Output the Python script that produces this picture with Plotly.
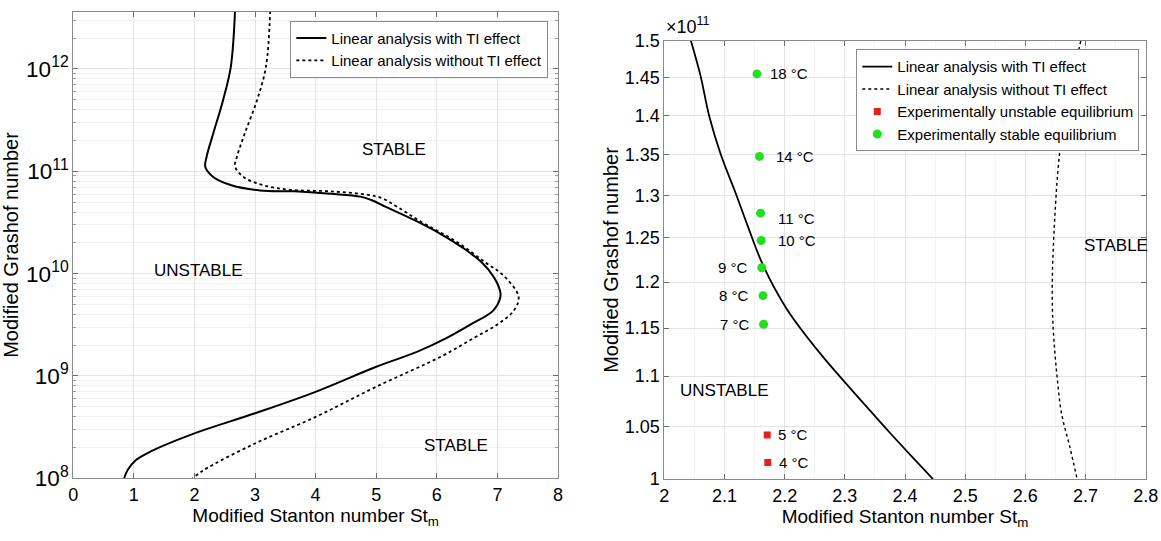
import math
import plotly.graph_objects as go

# ---- left panel: stability boundary over the full Grashof range
st_ti = [2.67, 2.60, 2.47, 2.31, 2.20, 2.18, 2.31, 2.61, 3.08, 3.65, 4.25, 4.74, 4.92, 5.16,
         5.65, 6.08, 6.44, 6.74, 6.93, 7.04, 7.05, 6.93, 6.56, 6.15, 5.67, 5.00, 4.00, 3.00,
         2.00, 1.27, 1.03, 0.90, 0.84]
gr_ti = [3.7e12, 1.05e12, 4.9e11, 2.34e11, 1.38e11, 1.10e11, 8.8e10, 7.3e10, 6.5e10, 6.37e10,
         6.03e10, 5.66e10, 5.24e10, 4.49e10, 3.29e10, 2.41e10, 1.77e10, 1.29e10, 9.46e9,
         6.93e9, 5.94e9, 4.35e9, 3.19e9, 2.33e9, 1.72e9, 1.23e9, 7.0e8, 4.32e8,
         2.75e8, 1.82e8, 1.5e8, 1.21e8, 1.0e8]

st_noti = [3.25, 3.18, 3.03, 2.83, 2.70, 2.67, 2.81, 3.14, 3.58, 4.25, 4.86, 5.10, 5.35, 5.71, 6.32,
           6.80, 7.11, 7.35, 7.27, 7.00, 6.60, 6.10, 5.00, 4.00, 3.00, 2.15, 1.97]
gr_noti = [3.7e12, 1.05e12, 4.9e11, 2.34e11, 1.38e11, 1.12e11, 8.8e10, 7.3e10, 6.6e10, 6.37e10,
           5.89e10, 5.45e10, 4.49e10, 3.29e10, 2.06e10, 1.29e10, 9.46e9, 5.94e9, 4.35e9, 3.19e9,
           2.33e9, 1.58e9, 7.85e8, 3.98e8, 2.19e8, 1.2e8, 1.0e8]

# ---- right panel: zoom, Grashof in units of 1e11
st_ti_z = [2.0443, 2.060, 2.075, 2.094, 2.118, 2.137, 2.164, 2.204, 2.260, 2.335, 2.376, 2.413, 2.4465]
gr_ti_z = [1.5, 1.453, 1.398, 1.350, 1.304, 1.267, 1.219, 1.170, 1.1225, 1.070, 1.043, 1.020, 1.0]

st_noti_z = [2.692, 2.682, 2.669, 2.660, 2.654, 2.650, 2.647, 2.645, 2.645, 2.648, 2.653, 2.660, 2.674, 2.686]
gr_noti_z = [1.5, 1.462, 1.416, 1.372, 1.329, 1.287, 1.247, 1.208, 1.170, 1.133, 1.098, 1.063, 1.030, 1.0]

stable_temp = ["18 °C", "14 °C", "11 °C", "10 °C", "9 °C", "8 °C", "7 °C"]
stable_st = [2.154, 2.158, 2.160, 2.161, 2.162, 2.164, 2.165]
stable_gr = [1.455, 1.348, 1.279, 1.247, 1.216, 1.185, 1.154]

unstable_temp = ["5 °C", "4 °C"]
unstable_st = [2.171, 2.172]
unstable_gr = [1.0416, 1.0154]

yticks_z = [1, 1.05, 1.1, 1.15, 1.2, 1.25, 1.3, 1.35, 1.4, 1.45, 1.5]

FONT = "Liberation Sans, Arial, sans-serif"
W, H = 1161, 541

fig = go.Figure()

fig.add_scatter(x=st_ti, y=gr_ti, mode="lines", name="Linear analysis with TI effect",
                line=dict(color="black", width=2, shape="spline", smoothing=1.0),
                xaxis="x", yaxis="y", legend="legend")
fig.add_scatter(x=st_noti, y=gr_noti, mode="lines", name="Linear analysis without TI effect",
                line=dict(color="black", width=1.8, dash="dot", shape="spline", smoothing=1.0),
                xaxis="x", yaxis="y", legend="legend")

fig.add_scatter(x=st_ti_z, y=gr_ti_z, mode="lines", name="Linear analysis with TI effect",
                line=dict(color="black", width=1.8, shape="spline", smoothing=1.0),
                xaxis="x2", yaxis="y2", legend="legend2")
fig.add_scatter(x=st_noti_z, y=gr_noti_z, mode="lines", name="Linear analysis without TI effect",
                line=dict(color="black", width=1.4, dash="3px,3px", shape="spline", smoothing=1.0),
                xaxis="x2", yaxis="y2", legend="legend2")
fig.add_scatter(x=unstable_st, y=unstable_gr, mode="markers", name="Experimentally unstable equilibrium",
                marker=dict(color="#e8201a", size=7, symbol="square"),
                xaxis="x2", yaxis="y2", legend="legend2")
fig.add_scatter(x=stable_st, y=stable_gr, mode="markers", name="Experimentally stable equilibrium",
                marker=dict(color="#22e020", size=9, symbol="circle"),
                xaxis="x2", yaxis="y2", legend="legend2")

lab_font = dict(size=15, color="black", family=FONT)
# temperature labels next to the experimental points (log axis -> log10 positions)
for i, t in enumerate(stable_temp):
    left = t in ("9 °C", "8 °C", "7 °C")
    if left:
        xs = -12
    elif t == "18 °C":
        xs = 11
    else:
        xs = 15
    fig.add_annotation(x=stable_st[i], y=math.log10(stable_gr[i]), xref="x2", yref="y2", text=t,
                       showarrow=False, xanchor="right" if left else "left",
                       xshift=xs, yshift=-5 if t == "11 °C" else 0, font=lab_font)
for i, t in enumerate(unstable_temp):
    fig.add_annotation(x=unstable_st[i], y=math.log10(unstable_gr[i]), xref="x2", yref="y2", text=t,
                       showarrow=False, xanchor="left", xshift=9, font=lab_font)

region_font = dict(size=17, color="black", family=FONT)
fig.add_annotation(x=5.29, y=11.21, xref="x", yref="y", text="STABLE", showarrow=False, font=region_font)
fig.add_annotation(x=2.07, y=10.03, xref="x", yref="y", text="UNSTABLE", showarrow=False, font=region_font)
fig.add_annotation(x=6.32, y=8.32, xref="x", yref="y", text="STABLE", showarrow=False, font=region_font)
fig.add_annotation(x=2.10, y=0.0357, xref="x2", yref="y2", text="UNSTABLE", showarrow=False, font=region_font)
fig.add_annotation(x=2.751, y=0.0938, xref="x2", yref="y2", text="STABLE", showarrow=False, font=region_font)

# x10^11 multiplier above the right axis
fig.add_annotation(x=0.5722, y=0.9242, xref="paper", yref="paper", text="×10<sup>11</sup>",
                   showarrow=False, xanchor="left", yanchor="bottom", xshift=0, yshift=2,
                   font=dict(size=18, color="black", family=FONT))

axis_common = dict(showline=True, mirror="allticks", linecolor="#8a8a8a", linewidth=1,
                   ticks="inside", ticklen=5, tickcolor="#6a6a6a", automargin=False,
                   gridcolor="#e3e3e3", zeroline=False,
                   tickfont=dict(size=18, color="black", family=FONT))
xtitle = dict(text="Modified Stanton number St<sub>m</sub>", standoff=4,
              font=dict(size=19, color="black", family=FONT))
ytitle_font = dict(size=20, color="black", family=FONT)

fig.update_layout(
    width=W, height=H,
    margin=dict(l=0, r=0, t=0, b=0),
    paper_bgcolor="white", plot_bgcolor="white",
    showlegend=True,
    xaxis=dict(domain=[0.0631, 0.4806], range=[0, 8], dtick=1, anchor="y", title=xtitle, **axis_common),
    yaxis=dict(domain=[0.1159, 0.9784], type="log", range=[8, 12.56], dtick=1, anchor="x",
               exponentformat="power", showexponent="all",
               minor=dict(showgrid=True, gridcolor="#f0f0f0", ticks="inside", ticklen=3, tickcolor="#9a9a9a"),
               title=dict(text="Modified Grashof number", standoff=10, font=ytitle_font), **axis_common),
    xaxis2=dict(domain=[0.5722, 0.9868], range=[2, 2.8], dtick=0.1, anchor="y2",
                minor=dict(showgrid=True, gridcolor="#f3f3f3", dtick=0.05),
                title=xtitle, **axis_common),
    yaxis2=dict(domain=[0.1146, 0.9242], type="log", range=[0, 0.176091], anchor="x2",
                tickvals=yticks_z, ticktext=[f"{v:g}" for v in yticks_z],
                title=dict(text="Modified Grashof number", standoff=0, font=ytitle_font), **axis_common),
    legend=dict(x=0.4723, y=0.9617, xanchor="right", yanchor="top", bgcolor="white",
                bordercolor="#8a8a8a", borderwidth=1, tracegroupgap=0, itemwidth=30,
                font=dict(size=15, color="black", family=FONT)),
    legend2=dict(x=0.9813, y=0.9089, xanchor="right", yanchor="top", bgcolor="white",
                 bordercolor="#8a8a8a", borderwidth=1, tracegroupgap=0, itemwidth=30,
                 font=dict(size=15, color="black", family=FONT)),
)

# drop the default 8px page margin so the figure fills the window exactly
fig.write_html("out.html", config={"displayModeBar": False},
               post_script="document.body.style.margin='0';")
